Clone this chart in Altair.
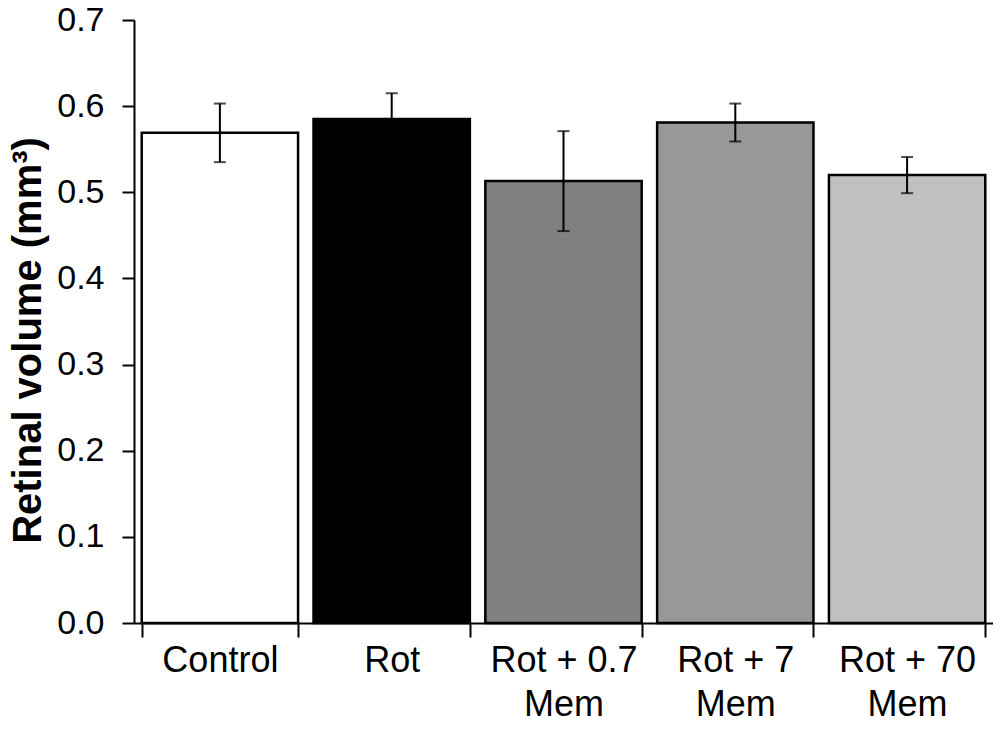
import altair as alt
import pandas as pd

categories = ["Control", "Rot", "Rot + 0.7|Mem", "Rot + 7|Mem", "Rot + 70|Mem"]
values = [0.569, 0.585, 0.513, 0.581, 0.520]
errors = [0.034, 0.030, 0.058, 0.022, 0.021]
fills = ["#ffffff", "#000000", "#808080", "#989898", "#c0c0c0"]

df = pd.DataFrame({
    "cat": categories,
    "val": values,
    "lo": [v - e for v, e in zip(values, errors)],
    "hi": [v + e for v, e in zip(values, errors)],
    "fill": fills,
})

FONT = "Liberation Sans"

x = alt.X(
    "cat:N",
    sort=categories,
    scale=alt.Scale(paddingInner=0.09, paddingOuter=0.045),
    axis=alt.Axis(
        title=None,
        labelAngle=0,
        labelExpr="split(datum.label, '|')",
        labelFontSize=36,
        labelLineHeight=44,
        labelColor="black",
        labelFont=FONT,
        labelPadding=6,
        tickBand="extent",
        tickSize=14,
        tickWidth=2,
        tickColor="black",
        domainColor="black",
        domainWidth=2,
    ),
)

y_axis = alt.Axis(
    title="Retinal volume (mm³)",
    titleFont=FONT,
    titleFontSize=40,
    titleFontWeight="bold",
    titleColor="black",
    titlePadding=8,
    titleY=320,
    values=[0, 0.1, 0.2, 0.3, 0.4, 0.5, 0.6, 0.7],
    format=".1f",
    labelFontSize=34,
    labelFont=FONT,
    labelColor="black",
    labelPadding=18,
    tickSize=12,
    tickWidth=2,
    tickColor="black",
    domainColor="black",
    domainWidth=2,
    grid=False,
)

base = alt.Chart(df)

bars = base.mark_bar(stroke="black", strokeWidth=2.5).encode(
    x=x,
    y=alt.Y("val:Q", scale=alt.Scale(domain=[0, 0.7], nice=False), axis=y_axis),
    fill=alt.Fill("fill:N", scale=None),
)

rules = base.mark_rule(color="black", strokeWidth=2).encode(
    x=alt.X("cat:N", sort=categories),
    y="lo:Q",
    y2="hi:Q",
)

caps_hi = base.mark_tick(color="black", thickness=2, size=12, orient="horizontal").encode(
    x=alt.X("cat:N", sort=categories),
    y="hi:Q",
)
caps_lo = base.mark_tick(color="black", thickness=2, size=12, orient="horizontal").encode(
    x=alt.X("cat:N", sort=categories),
    y="lo:Q",
)

chart = alt.layer(bars, rules, caps_hi, caps_lo).properties(
    width=859,
    height=603,
    background="white",
    autosize=alt.AutoSizeParams(type="none"),
    padding={"left": 126, "top": 12, "right": 0, "bottom": 106},
).configure_view(stroke=None)

chart.save("out.html", embed_options={"renderer": "svg", "actions": False})
